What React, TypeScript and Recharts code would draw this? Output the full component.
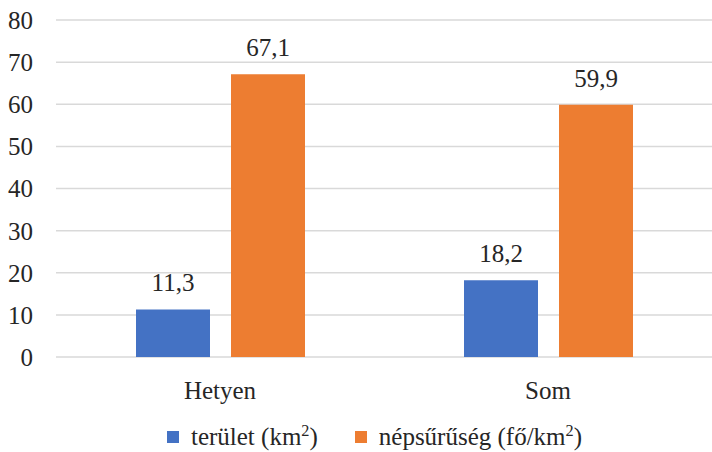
import { BarChart, Bar, XAxis, YAxis, CartesianGrid, Legend, LabelList } from 'recharts'

const categories = ['Hetyen', 'Som']
const terulet = [11.3, 18.2]
const nepsuruseg = [67.1, 59.9]
const yTicks = [0, 10, 20, 30, 40, 50, 60, 70, 80]
const seriesOrder = ['terulet', 'nepsuruseg']

const data = categories.map((name, i) => ({
  name,
  terulet: terulet[i],
  nepsuruseg: nepsuruseg[i],
}))

const FONT = "'Liberation Serif', 'DejaVu Serif', serif"
const TEXT = '#262626'

const fmt = (v: any) => String(v).replace('.', ',')

const labelFor = (key: string) =>
  key === 'terulet' ? (
    <>terület (km<sup style={{ fontSize: '0.65em' }}>2</sup>)</>
  ) : (
    <>népsűrűség (fő/km<sup style={{ fontSize: '0.65em' }}>2</sup>)</>
  )

const CustomLegend = ({ payload }: any) => {
  const items = [...(payload || [])].sort(
    (a: any, b: any) => seriesOrder.indexOf(a.dataKey) - seriesOrder.indexOf(b.dataKey)
  )
  return (
    <div
      style={{
        height: 40,
        display: 'flex',
        alignItems: 'center',
        justifyContent: 'center',
        paddingLeft: 37,
        transform: 'translateY(5px)',
        fontFamily: FONT,
        fontSize: 25,
        color: TEXT,
      }}
    >
      {items.map((entry: any, i: number) => (
        <div
          key={entry.dataKey}
          style={{ display: 'flex', alignItems: 'center', marginLeft: i === 0 ? 0 : 37 }}
        >
          <span
            style={{ width: 12, height: 12, background: entry.color, display: 'inline-block', marginRight: 12 }}
          />
          <span>{labelFor(entry.dataKey)}</span>
        </div>
      ))}
    </div>
  )
}

export default function App() {
  return (
    <div style={{ position: 'absolute', left: 0, top: 0, background: '#fff', fontFamily: FONT }}>
      <BarChart
        width={712}
        height={452}
        data={data}
        margin={{ top: 20, right: 0, left: 0, bottom: 0 }}
        barGap={21}
        style={{ fontFamily: FONT }}
      >
        <CartesianGrid vertical={false} stroke="#d9d9d9" strokeWidth={1.5} />
        <XAxis
          dataKey="name"
          axisLine={false}
          tickLine={false}
          tickSize={0}
          tickMargin={24}
          height={55}
          tick={{ fill: TEXT, fontSize: 25, fontFamily: FONT }}
        />
        <YAxis
          domain={[0, 80]}
          ticks={yTicks}
          axisLine={false}
          tickLine={false}
          tickSize={0}
          tickMargin={23}
          width={56}
          tick={{ fill: TEXT, fontSize: 25, fontFamily: FONT }}
        />
        <Legend
          verticalAlign="bottom"
          align="center"
          wrapperStyle={{ height: 40, width: 712, left: 0 }}
          content={<CustomLegend />}
        />
        <Bar dataKey="terulet" fill="#4472c4" barSize={74} isAnimationActive={false}>
          <LabelList
            dataKey="terulet"
            position="top"
            offset={18}
            formatter={fmt}
            style={{ fill: TEXT, fontSize: 25, fontFamily: FONT }}
          />
        </Bar>
        <Bar dataKey="nepsuruseg" fill="#ed7d31" barSize={74} isAnimationActive={false}>
          <LabelList
            dataKey="nepsuruseg"
            position="top"
            offset={18}
            formatter={fmt}
            style={{ fill: TEXT, fontSize: 25, fontFamily: FONT }}
          />
        </Bar>
      </BarChart>
    </div>
  )
}
